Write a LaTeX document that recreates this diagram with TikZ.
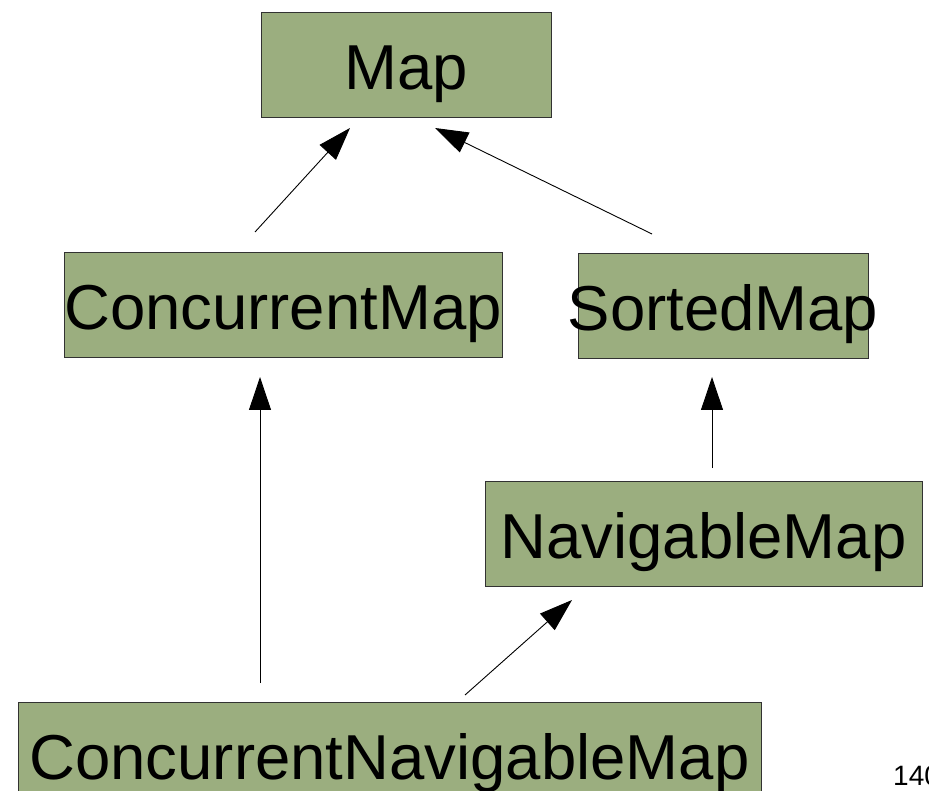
\documentclass[tikz,border=0pt]{standalone}
\usepackage{fontspec}
\setmainfont{Liberation Sans}
\usetikzlibrary{arrows.meta}
\definecolor{boxfill}{RGB}{155,174,127}
\definecolor{boxline}{RGB}{50,50,50}
\newcommand{\boxtext}[1]{\makebox[0pt][c]{#1}}
\tikzset{
  classbox/.style={draw=boxline, line width=0.9pt, fill=boxfill, rectangle,
    minimum height=105pt, inner sep=0pt, text height=50pt, text depth=0pt,
    font=\fontsize{63.5}{63.5}\selectfont},
  inherit/.style={draw=black, line width=0.9pt, -{Triangle[length=33pt,width=22pt]}}
}
\begin{document}
\begin{tikzpicture}[x=1pt,y=-1pt]
\useasboundingbox (0,0) rectangle (929,791);
\node[classbox, minimum width=290pt] (map) at (406,64.5) {\boxtext{Map}};
\node[classbox, minimum width=438pt] (cmap) at (283,304.5) {\boxtext{ConcurrentMap}};
\node[classbox, minimum width=290pt] (smap) at (723,305.5) {\boxtext{SortedMap}};
\node[classbox, minimum width=437pt] (nmap) at (703.5,533.5) {\boxtext{NavigableMap}};
\node[classbox, minimum width=743pt] (cnmap) at (389.5,754.5) {\boxtext{ConcurrentNavigableMap}};
\node[anchor=base west, inner sep=0pt, font=\fontsize{28}{28}\selectfont] (page) at (893,785) {140};
\coordinate (a1s) at (255,232); \coordinate (a1e) at (350,128);
\coordinate (a2s) at (652,234); \coordinate (a2e) at (435,128);
\coordinate (a3s) at (260,683); \coordinate (a3e) at (260,377);
\coordinate (a4s) at (712,468); \coordinate (a4e) at (712,377);
\coordinate (a5s) at (465,695); \coordinate (a5e) at (572,600);
\draw[inherit] (a1s) -- (a1e);
\draw[inherit] (a2s) -- (a2e);
\draw[inherit] (a3s) -- (a3e);
\draw[inherit] (a4s) -- (a4e);
\draw[inherit] (a5s) -- (a5e);
\end{tikzpicture}
\end{document}
